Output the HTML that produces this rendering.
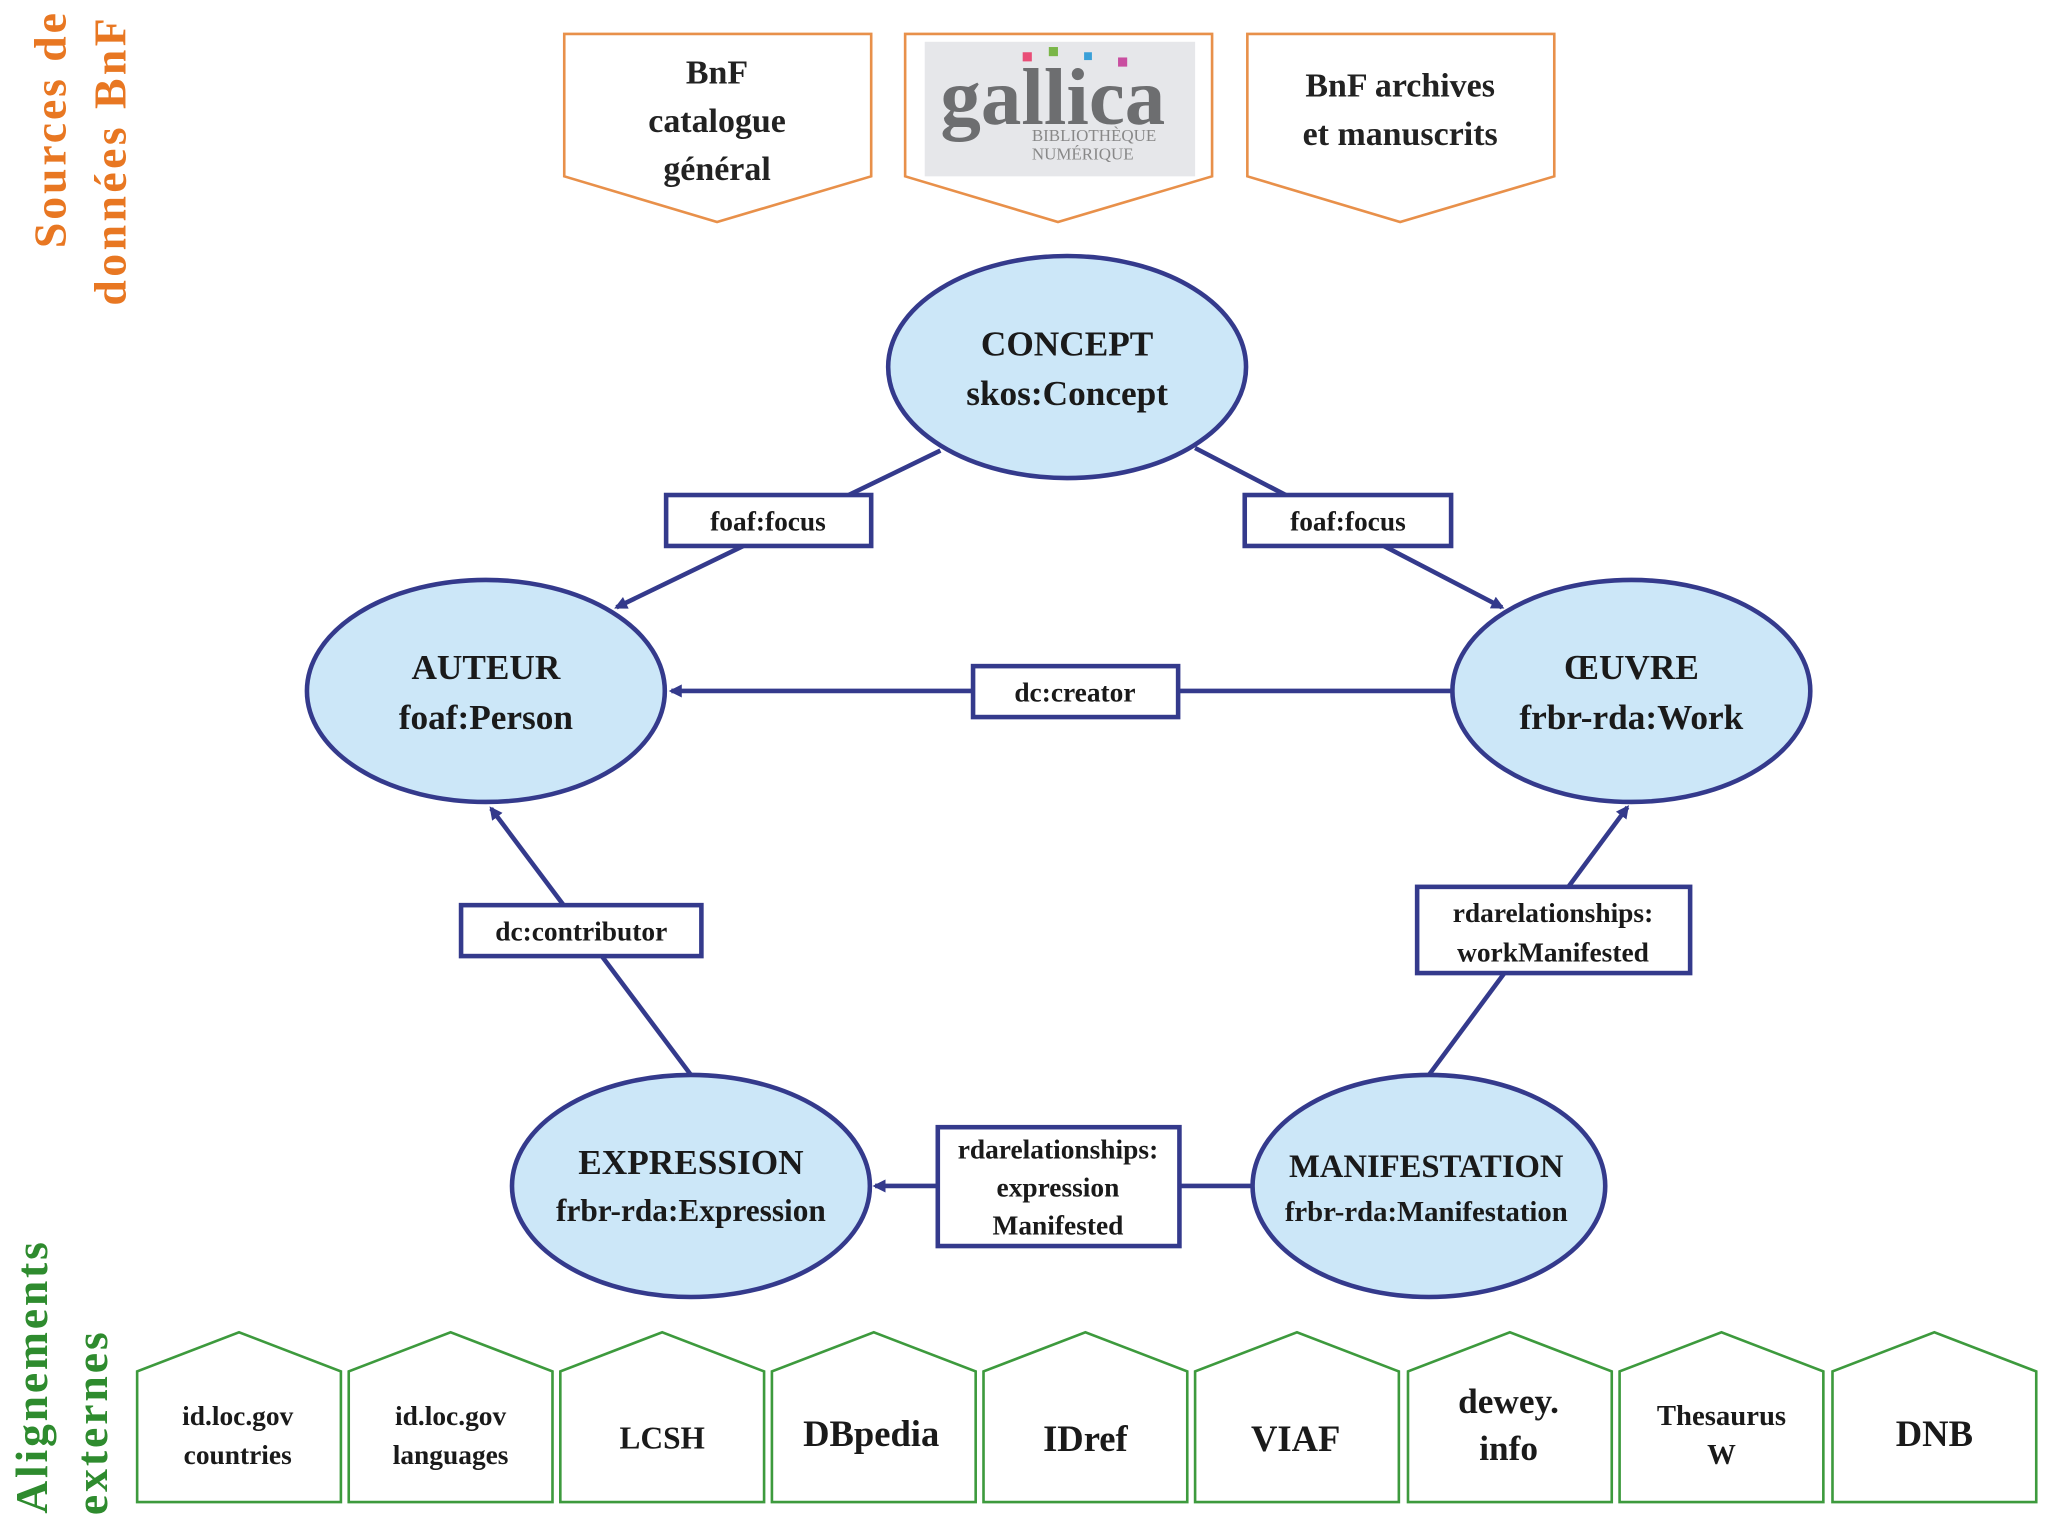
<!DOCTYPE html>
<html><head><meta charset="utf-8"><style>
html,body{margin:0;padding:0;background:#fff}
svg{display:block}
text{font-family:"Liberation Serif",serif}
</style></head><body>
<svg width="2048" height="1536" viewBox="0 0 1568 1176" xmlns="http://www.w3.org/2000/svg">
<defs>
<marker id="a" markerWidth="10" markerHeight="10" refX="8" refY="5" orient="auto" markerUnits="userSpaceOnUse">
<path d="M0,0 L10,5 L0,10 z" fill="#343a8c"/></marker>
</defs>
<rect width="1568" height="1176" fill="#fff"/>
<!-- side labels -->
<g fill="#e87722" font-size="35" font-weight="bold">
<text transform="translate(50,100) rotate(-90)" text-anchor="middle" textLength="180">Sources de</text>
<text transform="translate(96,124) rotate(-90)" text-anchor="middle" textLength="220">données BnF</text>
</g>
<g fill="#2e8b2e" font-size="35" font-weight="bold">
<text transform="translate(36,1055) rotate(-90)" text-anchor="middle" textLength="208">Alignements</text>
<text transform="translate(82,1090) rotate(-90)" text-anchor="middle" textLength="140">externes</text>
</g>
<!-- top pentagons -->
<g fill="#fff" stroke="#e8904a" stroke-width="2">
<path d="M432,26 H667 V135 L549,170 L432,135 Z"/>
<path d="M693,26 H928 V135 L810,170 L693,135 Z"/>
<path d="M955,26 H1190 V135 L1072,170 L955,135 Z"/>
</g>
<g font-size="26" font-weight="bold" fill="#222" text-anchor="middle">
<text x="549" y="64">BnF</text><text x="549" y="101">catalogue</text><text x="549" y="138">général</text>
<text x="1072" y="74">BnF archives</text><text x="1072" y="111">et manuscrits</text>
</g>
<rect x="708" y="32" width="207" height="103" fill="#e6e7ea"/>
<text x="720" y="95" font-size="62" font-weight="bold" fill="#6d6e70" font-family="Liberation Sans,sans-serif">gallica</text>
<rect x="783" y="40" width="7" height="7" fill="#e94e77"/><rect x="803" y="36" width="7" height="7" fill="#7ab648"/><rect x="830" y="40" width="6" height="6" fill="#3aa0d8"/><rect x="856" y="44" width="7" height="7" fill="#c94ea0"/>
<text x="790" y="108" font-size="13" fill="#888" font-family="Liberation Sans,sans-serif">BIBLIOTHÈQUE</text>
<text x="790" y="122" font-size="13" fill="#888" font-family="Liberation Sans,sans-serif">NUMÉRIQUE</text>
<!-- connectors -->
<g stroke="#343a8c" stroke-width="3.5" fill="none">
<line x1="720" y1="345" x2="472" y2="465" marker-end="url(#a)"/>
<line x1="915" y1="343" x2="1150" y2="465" marker-end="url(#a)"/>
<line x1="1112" y1="529" x2="514" y2="529" marker-end="url(#a)"/>
<line x1="529" y1="823" x2="376" y2="619" marker-end="url(#a)"/>
<line x1="1094" y1="823" x2="1246" y2="618" marker-end="url(#a)"/>
<line x1="958" y1="908" x2="670" y2="908" marker-end="url(#a)"/>
</g>
<!-- ellipses -->
<g fill="#cce7f8" stroke="#343a8c" stroke-width="3.5">
<ellipse cx="817" cy="281" rx="137" ry="85"/>
<ellipse cx="372" cy="529" rx="137" ry="85"/>
<ellipse cx="1249" cy="529" rx="137" ry="85"/>
<ellipse cx="529" cy="908" rx="137" ry="85"/>
<ellipse cx="1094" cy="908" rx="135" ry="85"/>
</g>
<g font-size="27" font-weight="bold" fill="#1a1a1a" text-anchor="middle">
<text x="817" y="272">CONCEPT</text><text x="817" y="310">skos:Concept</text>
<text x="372" y="520">AUTEUR</text><text x="372" y="558">foaf:Person</text>
<text x="1249" y="520">ŒUVRE</text><text x="1249" y="558">frbr-rda:Work</text>
<text x="529" y="899">EXPRESSION</text><text x="529" y="935" font-size="24">frbr-rda:Expression</text>
<text x="1092" y="901" font-size="25">MANIFESTATION</text><text x="1092" y="935" font-size="22">frbr-rda:Manifestation</text>
</g>
<!-- label boxes -->
<g fill="#fff" stroke="#343a8c" stroke-width="3.5">
<rect x="510" y="379" width="157" height="39"/>
<rect x="953" y="379" width="158" height="39"/>
<rect x="745" y="510" width="157" height="39"/>
<rect x="353" y="693" width="184" height="39"/>
<rect x="1085" y="679" width="209" height="66"/>
<rect x="718" y="863" width="185" height="91"/>
</g>
<g font-size="21" font-weight="bold" fill="#1a1a1a" text-anchor="middle">
<text x="588" y="406">foaf:focus</text>
<text x="1032" y="406">foaf:focus</text>
<text x="823" y="537">dc:creator</text>
<text x="445" y="720">dc:contributor</text>
<text x="1189" y="706">rdarelationships:</text><text x="1189" y="736">workManifested</text>
<text x="810" y="887">rdarelationships:</text><text x="810" y="916">expression</text><text x="810" y="945">Manifested</text>
</g>
<!-- bottom pentagons -->
<g fill="#fff" stroke="#3d9a3d" stroke-width="2">
<path d="M105,1150 V1050 L183,1020 L261,1050 V1150 Z"/>
<path d="M267,1150 V1050 L345,1020 L423,1050 V1150 Z"/>
<path d="M429,1150 V1050 L507,1020 L585,1050 V1150 Z"/>
<path d="M591,1150 V1050 L669,1020 L747,1050 V1150 Z"/>
<path d="M753,1150 V1050 L831,1020 L909,1050 V1150 Z"/>
<path d="M915,1150 V1050 L993,1020 L1071,1050 V1150 Z"/>
<path d="M1078,1150 V1050 L1156,1020 L1234,1050 V1150 Z"/>
<path d="M1240,1150 V1050 L1318,1020 L1396,1050 V1150 Z"/>
<path d="M1403,1150 V1050 L1481,1020 L1559,1050 V1150 Z"/>
</g>
<g font-weight="bold" fill="#1a1a1a" text-anchor="middle">
<text x="182" y="1091" font-size="21">id.loc.gov</text><text x="182" y="1121" font-size="21">countries</text>
<text x="345" y="1091" font-size="21">id.loc.gov</text><text x="345" y="1121" font-size="21">languages</text>
<text x="507" y="1109" font-size="24">LCSH</text>
<text x="667" y="1107" font-size="28">DBpedia</text>
<text x="831" y="1111" font-size="28">IDref</text>
<text x="992" y="1111" font-size="28">VIAF</text>
<text x="1155" y="1082" font-size="27">dewey.</text><text x="1155" y="1118" font-size="27">info</text>
<text x="1318" y="1091" font-size="22">Thesaurus</text><text x="1318" y="1121" font-size="22">W</text>
<text x="1481" y="1107" font-size="28">DNB</text>
</g>
</svg>
</body></html>
